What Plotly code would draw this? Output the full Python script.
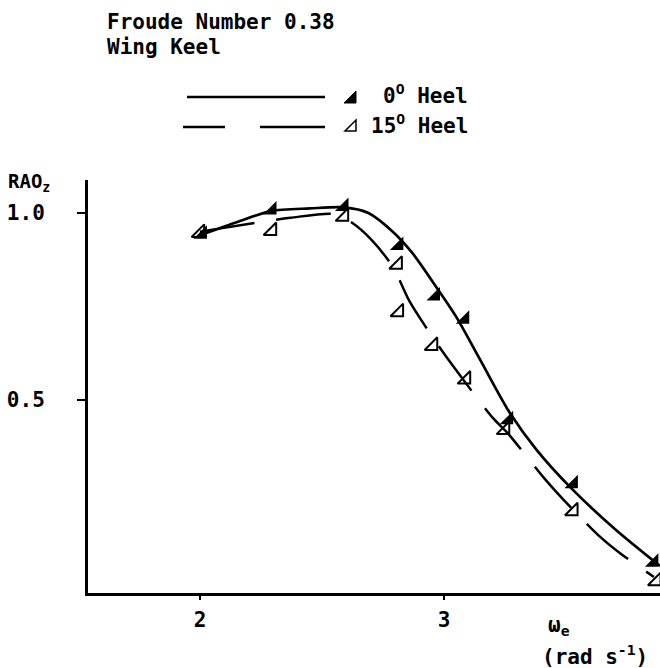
import plotly.graph_objects as go

# ---- data ----
omega_heel0 = [2.01, 2.295, 2.59, 2.815, 2.965, 3.085, 3.265, 3.53, 3.86]
rao_heel0 = [0.943, 1.008, 1.017, 0.913, 0.778, 0.716, 0.447, 0.276, 0.066]

omega_heel15 = [2.00, 2.295, 2.59, 2.81, 2.815, 2.955, 3.09, 3.25, 3.53, 3.87]
rao_heel15 = [0.947, 0.952, 0.99, 0.862, 0.735, 0.645, 0.555, 0.42, 0.203, 0.016]

curve0_omega = [2.02, 2.15, 2.29, 2.45, 2.59, 2.69, 2.79, 2.87, 2.97, 3.05, 3.15, 3.27, 3.38, 3.52, 3.70, 3.885]
curve0_rao = [0.945, 0.975, 1.005, 1.012, 1.015, 1.0, 0.95, 0.893, 0.80, 0.722, 0.605, 0.465, 0.366, 0.265, 0.155, 0.056]

curve15_omega = [2.0, 2.25, 2.37, 2.55, 2.62, 2.70, 2.79, 2.86, 2.97, 3.04, 3.20, 3.26, 3.41, 3.49, 3.64, 3.72, 3.86]
curve15_rao = [0.95, 0.976, 0.987, 0.997, 0.975, 0.93, 0.856, 0.762, 0.652, 0.588, 0.452, 0.412, 0.291, 0.233, 0.134, 0.091, 0.027]

x_ticks = [2, 3]
x_tick_labels = ["2", "3"]
y_ticks = [0.5, 1.0]
y_tick_labels = ["0.5", "1.0"]

title_lines = ["Froude Number 0.38", "Wing Keel"]
legend_labels = ["0<sup>O</sup> Heel", "15<sup>O</sup> Heel"]

# ---- layout ----
W, H = 660, 668
L, R, T, B = 88, 0, 180, 75
PW, PH = W - L - R, H - T - B
FONT = "DejaVu Sans Mono"
BLACK = "black"


def px(xp):
    return (xp - L) / PW


def py(yp):
    return (H - B - yp) / PH


fig = go.Figure()
fig.add_trace(go.Scatter(x=curve0_omega, y=curve0_rao, mode="lines",
                         line=dict(color=BLACK, width=2.7, shape="spline", smoothing=0.8),
                         showlegend=False, cliponaxis=False))
fig.add_trace(go.Scatter(x=curve15_omega, y=curve15_rao, mode="lines",
                         line=dict(color=BLACK, width=2.5, shape="spline", smoothing=0.8,
                                   dash="55px,22px"),
                         showlegend=False, cliponaxis=False))
fig.add_trace(go.Scatter(x=omega_heel0, y=rao_heel0, mode="markers",
                         marker=dict(symbol="triangle-se", size=15, color=BLACK),
                         showlegend=False, cliponaxis=False))
fig.add_trace(go.Scatter(x=omega_heel15, y=rao_heel15, mode="markers",
                         marker=dict(symbol="triangle-se-open", size=14, color=BLACK,
                                     line=dict(width=2, color=BLACK)),
                         showlegend=False, cliponaxis=False))

shapes = []
# legend row 1: solid line + filled triangle
shapes.append(dict(type="line", xref="paper", yref="paper", x0=px(187), x1=px(325),
                   y0=py(97), y1=py(97), line=dict(color=BLACK, width=2.5)))
shapes.append(dict(type="path", xref="paper", yref="paper",
                   path=f"M {px(344)},{py(103)} L {px(356)},{py(103)} L {px(356)},{py(91)} Z",
                   fillcolor=BLACK, line=dict(color=BLACK, width=1)))
# legend row 2: dashed line + open triangle
shapes.append(dict(type="line", xref="paper", yref="paper", x0=px(183), x1=px(225),
                   y0=py(127), y1=py(127), line=dict(color=BLACK, width=2.5)))
shapes.append(dict(type="line", xref="paper", yref="paper", x0=px(260), x1=px(325),
                   y0=py(127), y1=py(127), line=dict(color=BLACK, width=2.5)))
shapes.append(dict(type="path", xref="paper", yref="paper",
                   path=f"M {px(345)},{py(131)} L {px(356)},{py(131)} L {px(356)},{py(120)} Z",
                   fillcolor="white", line=dict(color=BLACK, width=1.5)))

font = dict(family=FONT, size=21, color=BLACK, weight="bold")
annotations = [
    dict(text=title_lines[0], x=px(105), y=py(22), xref="paper", yref="paper",
         xanchor="left", yanchor="middle", showarrow=False, font=font),
    dict(text=title_lines[1], x=px(105), y=py(47), xref="paper", yref="paper",
         xanchor="left", yanchor="middle", showarrow=False, font=font),
    dict(text=legend_labels[0], x=px(470), y=py(94), xref="paper", yref="paper",
         xanchor="right", yanchor="middle", showarrow=False, font=font),
    dict(text=legend_labels[1], x=px(470), y=py(124), xref="paper", yref="paper",
         xanchor="right", yanchor="middle", showarrow=False, font=font),
    dict(text="RAO<sub>z</sub>", x=px(6), y=py(182), xref="paper", yref="paper",
         xanchor="left", yanchor="middle", showarrow=False,
         font=dict(family=FONT, size=19, color=BLACK, weight="bold")),
    dict(text="ω<sub>e</sub>", x=px(546), y=py(626), xref="paper", yref="paper",
         xanchor="left", yanchor="middle", showarrow=False, font=font),
    dict(text="(rad s<sup>-1</sup>)", x=px(540), y=py(655), xref="paper", yref="paper",
         xanchor="left", yanchor="middle", showarrow=False, font=font),
]

fig.update_layout(
    width=W, height=H,
    margin=dict(l=L, r=R, t=T, b=B, pad=0),
    paper_bgcolor="white", plot_bgcolor="white",
    font=font,
    shapes=shapes,
    annotations=annotations,
    showlegend=False,
)
fig.update_xaxes(range=[1.541, 3.885], showline=True, linewidth=3, linecolor=BLACK,
                 ticks="outside", ticklen=4, tickwidth=2, tickcolor=BLACK,
                 tickvals=x_ticks, ticktext=x_tick_labels, showgrid=False, zeroline=False,
                 tickfont=font, ticklabelstandoff=2)
fig.update_yaxes(range=[-0.016, 1.088], showline=True, linewidth=3, linecolor=BLACK,
                 ticks="outside", ticklen=8, tickwidth=2, tickcolor=BLACK,
                 tickvals=y_ticks, ticktext=y_tick_labels, showgrid=False, zeroline=False,
                 tickfont=font, ticklabelstandoff=28)

fig.write_html("out.html")
